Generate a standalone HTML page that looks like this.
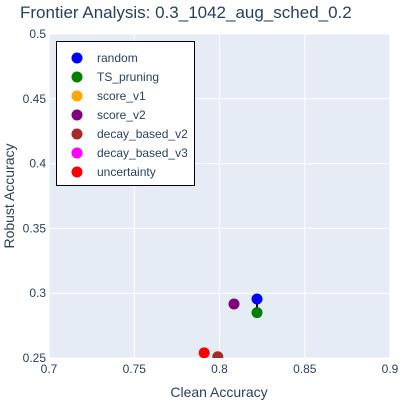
<!DOCTYPE html>
<html><head><meta charset="utf-8"><style>
body{margin:0;background:#fff;font-family:"Liberation Sans",Arial,sans-serif}
svg text{font-family:"Liberation Sans",Arial,sans-serif}
</style></head><body>
<svg id="c" width="400" height="400" xmlns="http://www.w3.org/2000/svg">
<rect width="400" height="400" fill="#fff"/>
<text x="20" y="18" font-size="17" fill="#2a3f5f">Frontier Analysis: 0.3_1042_aug_sched_0.2</text>
<defs><clipPath id="pc"><rect x="49" y="34" width="341" height="324"/></clipPath></defs>
<rect x="49" y="34" width="341" height="324" fill="#e5ecf6"/>
<g id="grid"></g>
<g id="marks" clip-path="url(#pc)"></g>
<text x="219" y="397" font-size="14" fill="#2a3f5f" text-anchor="middle">Clean Accuracy</text>
<text x="14" y="196" font-size="14" fill="#2a3f5f" text-anchor="middle" transform="rotate(-90 14 196)">Robust Accuracy</text>
<g id="legend"></g>
</svg>
<script>
const names=["random","TS_pruning","score_v1","score_v2","decay_based_v2","decay_based_v3","uncertainty"];
const colors=["blue","green","orange","purple","brown","magenta","red"];
const xs=[0.822,0.822,null,0.8085,0.799,null,0.791];
const ys=[0.2955,0.285,null,0.2917,0.251,null,0.254];
const frontierIdx=[0,1];
const xTicks=[0.7,0.75,0.8,0.85,0.9];
const yTicks=[0.25,0.3,0.35,0.4,0.45,0.5];
const NS="http://www.w3.org/2000/svg";
const X=v=>49+(v-0.7)/0.2*341, Y=v=>358-(v-0.25)/0.25*324;
function mk(t,a,p){const e=document.createElementNS(NS,t);for(const k in a)e.setAttribute(k,a[k]);p.appendChild(e);return e;}
const g=document.getElementById('grid'),m=document.getElementById('marks'),lg=document.getElementById('legend'),svg=document.getElementById('c');
xTicks.forEach(t=>{const l=mk('line',{x1:X(t),x2:X(t),y1:34,y2:358,stroke:'#fff','stroke-width':1},g);

const tx=mk('text',{x:X(t),y:373,'font-size':12,fill:'#2a3f5f','text-anchor':'middle'},svg);tx.textContent=t;
});
yTicks.forEach(t=>{const l=mk('line',{x1:49,x2:390,y1:Y(t),y2:Y(t),stroke:'#fff','stroke-width':1},g);

const tx=mk('text',{x:46,y:Y(t)+4,'font-size':12,fill:'#2a3f5f','text-anchor':'end'},svg);tx.textContent=t;
});
const pts=frontierIdx.map(i=>X(xs[i])+','+Y(ys[i])).join(' ');
const fl=mk('polyline',{points:pts,fill:'none',stroke:'#000','stroke-width':2},m);

names.forEach((n,i)=>{if(xs[i]==null)return;const c=mk('circle',{cx:X(xs[i]),cy:Y(ys[i]),r:5.5,fill:colors[i]},m);
});
const box=mk('rect',{x:56.5,y:41.5,width:138,height:144,fill:'#fff',stroke:'#000','stroke-width':1},lg);

names.forEach((n,i)=>{const y=58+i*19;
const c=mk('circle',{cx:77,cy:y,r:5.5,fill:colors[i]},lg);
const t=mk('text',{x:97,y:y+4,'font-size':12,fill:'#2a3f5f'},lg);t.textContent=n;
});
</script>
</body></html>
